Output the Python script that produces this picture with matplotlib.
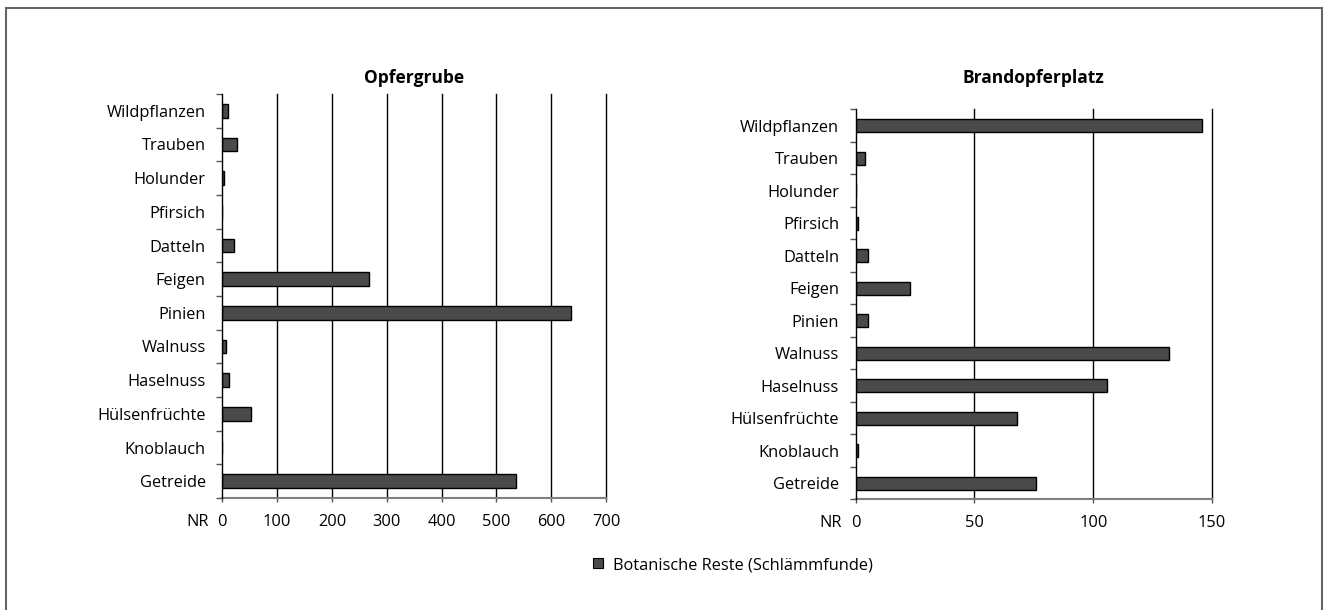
import matplotlib
matplotlib.use("Agg")
import matplotlib.pyplot as plt
from matplotlib.patches import Patch, Rectangle
import numpy as np

plt.rcParams['font.family'] = ['Open Sans', 'DejaVu Sans']

categories = ["Getreide", "Knoblauch", "Hülsenfrüchte", "Haselnuss", "Walnuss",
              "Pinien", "Feigen", "Datteln", "Pfirsich", "Holunder", "Trauben",
              "Wildpflanzen"]
opfergrube = [535, 0, 52, 12, 6, 637, 268, 21, 0, 4, 27, 10]
brandopferplatz = [76, 1, 68, 106, 132, 5, 23, 5, 1, 0, 4, 146]
left_ticks = [0, 100, 200, 300, 400, 500, 600, 700]
right_ticks = [0, 50, 100, 150]
titles = ["Opfergrube", "Brandopferplatz"]
legend_label = "Botanische Reste (Schlämmfunde)"

W, H = 1325, 610
fig = plt.figure(figsize=(W / 100, H / 100), dpi=100)

def px_axes(x0, x1, y0, y1):
    return fig.add_axes([x0 / W, 1 - y1 / H, (x1 - x0) / W, (y1 - y0) / H])

bar_face = "#4a4a4a"
fs = 11.8
xpad = 8.5

def draw(ax, vals, ticks, title):
    y = np.arange(len(categories))
    ax.barh(y, vals, height=0.4, color=bar_face, edgecolor="black", linewidth=1.0, zorder=3)
    ax.set_xlim(ticks[0], ticks[-1])
    ax.set_ylim(-0.5, len(categories) - 0.5)
    ax.set_xticks(ticks)
    ax.set_xticklabels([str(t) for t in ticks], fontsize=fs)
    ax.set_yticks(y)
    ax.set_yticklabels(categories, fontsize=fs)
    ax.set_yticks(np.arange(-0.5, len(categories), 1.0), minor=True)
    ax.tick_params(axis='y', which='major', length=0, pad=12)
    ax.tick_params(axis='y', which='minor', length=4, width=1, color='#555555', direction='out')
    ax.tick_params(axis='x', which='major', length=3, width=1, color='#555555', pad=xpad)
    for t in ticks[1:]:
        ax.axvline(t, color='black', linewidth=1.0, zorder=1, clip_on=False)
    for s in ['top', 'right']:
        ax.spines[s].set_visible(False)
    ax.spines['left'].set_color('black')
    ax.spines['left'].set_linewidth(1.0)
    ax.spines['left'].set_zorder(4)
    ax.spines['bottom'].set_color('#808080')
    ax.spines['bottom'].set_linewidth(1.5)
    pos = ax.get_position()
    fig.text((pos.x0 + pos.x1) / 2, 1 - 78 / H, title, fontsize=12.5, fontweight='bold',
             ha='center', va='center')
    ax.annotate("NR", xy=(0, 0), xycoords='axes fraction', xytext=(-10, -3 - xpad),
                textcoords='offset points', ha='right', va='top', fontsize=fs)

ax1 = px_axes(222.3, 606.0, 94, 498)
draw(ax1, opfergrube, left_ticks, titles[0])
ax2 = px_axes(855.7, 1212.0, 109.3, 499.3)
draw(ax2, brandopferplatz, right_ticks, titles[1])

fig.legend(handles=[Patch(facecolor=bar_face, edgecolor='black', linewidth=0.8)],
           labels=[legend_label], loc='center', bbox_to_anchor=(733 / W, 1 - 565 / H),
           frameon=False, fontsize=fs, handlelength=0.6, handleheight=0.6, handletextpad=0.6)

fig.add_artist(Rectangle((6 / W, -0.05), (1322 - 6) / W, 1.05 - 8 / H, transform=fig.transFigure,
                         fill=False, edgecolor='#666666', linewidth=1.5))

fig.savefig("out.png", dpi=100)
